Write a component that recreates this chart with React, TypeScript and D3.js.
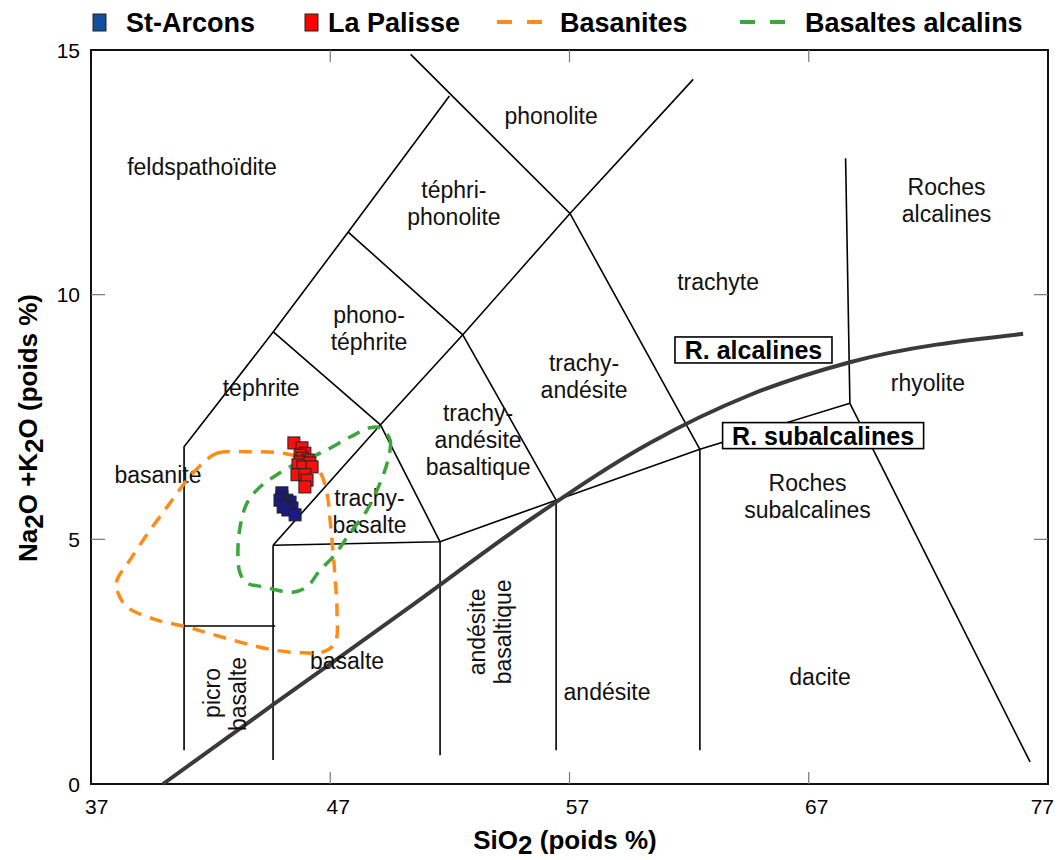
import React, { useEffect } from 'react';
import * as d3 from 'd3';

type Pt = [number, number];

// axes
const xTicks = [37, 47, 57, 67, 77];
const yTicks = [0, 5, 10, 15];
const innerXTicks = [47, 57, 67];
const innerYTicks = [5, 10];

// samples [SiO2, Na2O+K2O]
const stArcons: Pt[] = [
  [44.98, 5.95], [44.98, 5.87], [45.19, 5.80], [44.90, 5.80], [45.32, 5.76],
  [45.11, 5.70], [45.03, 5.66], [45.40, 5.64], [45.23, 5.60], [45.53, 5.50],
];
const laPalisse: Pt[] = [
  [45.48, 6.97], [45.82, 6.87], [45.94, 6.76], [45.74, 6.72], [45.82, 6.66],
  [46.07, 6.62], [45.74, 6.58], [46.15, 6.56], [45.65, 6.52], [45.86, 6.48],
  [46.24, 6.48], [45.61, 6.32], [45.94, 6.32], [46.03, 6.21], [45.94, 6.07],
];

// envelopes
const basanites: Pt[] = [
  [41.68, 6.56], [42.27, 6.76], [43.52, 6.79], [45.03, 6.76], [46.03, 6.62],
  [46.57, 6.38], [46.86, 5.95], [46.99, 5.40], [47.11, 4.78], [47.20, 4.23],
  [47.28, 3.56], [47.20, 2.88], [46.70, 2.70], [45.86, 2.68], [44.61, 2.74],
  [43.23, 2.90], [41.85, 3.09], [41.01, 3.21], [39.76, 3.35], [38.50, 3.62],
  [38.09, 3.96], [38.09, 4.17], [38.63, 4.58], [39.47, 5.19], [40.30, 5.74],
  [41.01, 6.21],
];
const basaltesAlcalins: Pt[] = [
  [49.08, 7.28], [49.50, 7.03], [49.41, 6.62], [49.08, 6.15], [48.54, 5.60],
  [47.83, 5.13], [47.12, 4.64], [46.57, 4.37], [46.03, 4.03], [45.44, 3.92],
  [44.19, 4.03], [43.52, 4.11], [43.23, 4.31], [43.14, 4.72], [43.23, 5.25],
  [43.52, 5.74], [44.06, 6.07], [44.77, 6.32], [45.61, 6.56], [46.70, 6.79],
  [47.83, 7.09], [48.66, 7.28],
];

// alkaline / subalkaline divide
const alkalineDivide: Pt[] = [
  [40.01, 0], [44.61, 1.62], [50.33, 3.62], [55.35, 5.40], [60.36, 6.97],
  [64.54, 7.95], [68.72, 8.62], [75.96, 9.20],
];

// TAS field boundaries
const fieldLines: Pt[][] = [
  [[40.89, 0.69], [40.89, 6.89], [44.62, 9.24], [47.75, 11.28], [51.98, 14.06]],
  [[50.36, 14.91], [57.02, 11.66], [62.45, 6.84]],
  [[57.02, 11.66], [62.17, 14.40]],
  [[44.62, 9.24], [49.10, 7.34]],
  [[47.75, 11.28], [52.54, 9.18]],
  [[57.02, 11.66], [52.54, 9.18], [49.10, 7.34], [44.61, 4.88]],
  [[49.10, 7.34], [51.59, 4.95]],
  [[52.54, 9.18], [56.44, 5.80]],
  [[44.61, 4.88], [51.59, 4.95], [56.44, 5.80], [62.45, 6.84], [68.72, 7.78]],
  [[40.89, 3.23], [44.70, 3.23]],
  [[44.61, 4.88], [44.61, 0.49]],
  [[51.59, 4.95], [51.59, 0.59]],
  [[56.44, 5.80], [56.44, 0.69]],
  [[62.45, 6.84], [62.45, 0.69]],
  [[68.72, 7.78], [68.54, 12.79]],
  [[68.72, 7.78], [76.25, 0.45]],
];

const fieldNames: { lines: string[]; at: Pt }[] = [
  { lines: ['feldspathoïdite'], at: [41.64, 12.61] },
  { lines: ['phonolite'], at: [56.23, 13.65] },
  { lines: ['téphri-', 'phonolite'], at: [52.17, 12.14] },
  { lines: ['phono-', 'téphrite'], at: [48.62, 9.59] },
  { lines: ['tephrite'], at: [44.11, 8.09] },
  { lines: ['trachy-', 'andésite', 'basaltique'], at: [53.18, 7.58] },
  { lines: ['trachy-', 'andésite'], at: [57.61, 8.60] },
  { lines: ['trachyte'], at: [63.21, 10.26] },
  { lines: ['Roches', 'alcalines'], at: [72.76, 12.20] },
  { lines: ['rhyolite'], at: [71.98, 8.20] },
  { lines: ['Roches', 'subalcalines'], at: [66.95, 6.15] },
  { lines: ['trachy-', 'basalte'], at: [48.64, 5.85] },
  { lines: ['basanite'], at: [39.80, 6.32] },
  { lines: ['basalte'], at: [47.70, 2.51] },
  { lines: ['andésite'], at: [58.57, 1.88] },
  { lines: ['dacite'], at: [67.47, 2.19] },
];
const verticalNames: { text: string; at: Pt }[] = [
  { text: 'picro', at: [42.06, 1.86] },
  { text: 'basalte', at: [43.14, 1.84] },
  { text: 'andésite', at: [53.13, 3.11] },
  { text: 'basaltique', at: [54.22, 3.11] },
];
const seriesBoxes: { text: string; at: Pt; w: number }[] = [
  { text: 'R. alcalines', at: [64.69, 8.87], w: 157 },
  { text: 'R. subalcalines', at: [67.60, 7.12], w: 201 },
];

const FONT = '"Liberation Sans", Arial, Helvetica, sans-serif';

const App: React.FC = () => {
  useEffect(() => {
    document.body.style.margin = '0';
  }, []);

  const x = d3.scaleLinear().domain([37, 77]).range([91, 1048]);
  const y = d3.scaleLinear().domain([0, 15]).range([784, 50]);

  const line = d3.line<Pt>().x(d => x(d[0])).y(d => y(d[1]));
  const divide = d3.line<Pt>().x(d => x(d[0])).y(d => y(d[1])).curve(d3.curveMonotoneX);
  const envelope = d3.line<Pt>().x(d => x(d[0])).y(d => y(d[1])).curve(d3.curveCatmullRomClosed.alpha(0.5));

  const sq = 12;

  return (
    <svg width={1058} height={860} style={{ position: 'absolute', left: 0, top: 0, background: 'white' }} fontFamily={FONT}>
      {/* legend */}
      <g fontSize={27} fontWeight="bold">
        <rect x={93} y={14} width={13} height={17} fill="#134f9c" stroke="#222" strokeWidth={1} />
        <text x={126} y={32}>St-Arcons</text>
        <rect x={305} y={14} width={13} height={17} fill="#ff0000" stroke="#222" strokeWidth={1} />
        <text x={328} y={32}>La Palisse</text>
        <line x1={497} x2={543} y1={22} y2={22} stroke="#ff8c1a" strokeWidth={4} strokeDasharray="15 15" />
        <text x={560} y={32}>Basanites</text>
        <line x1={740} x2={786} y1={22} y2={22} stroke="#3ca53c" strokeWidth={4} strokeDasharray="15 15" />
        <text x={805} y={32}>Basaltes alcalins</text>
      </g>

      {/* frame + ticks */}
      <rect x={x(37)} y={y(15)} width={x(77) - x(37)} height={y(0) - y(15)} fill="none" stroke="#111" strokeWidth={2} />
      {innerXTicks.map(t => (
        <g key={'xt' + t} stroke="#777" strokeWidth={1.2}>
          <line x1={x(t)} x2={x(t)} y1={y(0)} y2={y(0) - 12} />
          <line x1={x(t)} x2={x(t)} y1={y(15)} y2={y(15) + 12} />
        </g>
      ))}
      {innerYTicks.map(t => (
        <g key={'yt' + t} stroke="#777" strokeWidth={1.2}>
          <line x1={x(37)} x2={x(37) + 14} y1={y(t)} y2={y(t)} />
          <line x1={x(77)} x2={x(77) - 14} y1={y(t)} y2={y(t)} />
        </g>
      ))}
      <g fontSize={21}>
        {xTicks.map((t, i) => (
          <text
            key={'xl' + t}
            x={i === 0 ? x(t) - 6 : i === xTicks.length - 1 ? x(t) + 6 : x(t) + 8}
            y={814}
            textAnchor={i === 0 ? 'start' : i === xTicks.length - 1 ? 'end' : 'middle'}
          >
            {t}
          </text>
        ))}
        {yTicks.map(t => (
          <text key={'yl' + t} x={80} y={y(t)} dy="0.36em" textAnchor="end">{t}</text>
        ))}
      </g>
      <text x={565} y={849} fontSize={26} fontWeight="bold" textAnchor="middle">
        SiO<tspan dy={5}>2</tspan><tspan dy={-5}> (poids %)</tspan>
      </text>
      <text transform="translate(37,428) rotate(-90)" fontSize={26} fontWeight="bold" textAnchor="middle">
        Na<tspan dy={6}>2</tspan><tspan dy={-6}>O +K</tspan><tspan dy={6}>2</tspan><tspan dy={-6}>O (poids %)</tspan>
      </text>

      {/* TAS fields */}
      <g fill="none" stroke="#000" strokeWidth={1.6}>
        {fieldLines.map((seg, i) => <path key={'f' + i} d={line(seg) || ''} />)}
      </g>
      <path d={divide(alkalineDivide) || ''} fill="none" stroke="#3a3a3a" strokeWidth={4} />

      <g fontSize={23} textAnchor="middle" fill="#111">
        {fieldNames.map((f, i) => (
          <text key={'n' + i} x={x(f.at[0])} y={y(f.at[1]) + 8} dy="0.36em">
            {f.lines.map((l, j) => (
              <tspan key={j} x={x(f.at[0])} dy={j === 0 ? 0 : 27}>{l}</tspan>
            ))}
          </text>
        ))}
        {verticalNames.map((f, i) => (
          <text key={'v' + i} transform={`translate(${x(f.at[0])},${y(f.at[1])}) rotate(-90)`} dy="0.36em">{f.text}</text>
        ))}
      </g>

      {/* envelopes */}
      <path d={envelope(basanites) || ''} fill="none" stroke="#ff8c1a" strokeWidth={3.5} strokeDasharray="13 9" />
      <path d={envelope(basaltesAlcalins) || ''} fill="none" stroke="#3ca53c" strokeWidth={3.5} strokeDasharray="13 9" />

      {/* samples */}
      {laPalisse.map((d, i) => (
        <rect key={'lp' + i} x={x(d[0]) - sq / 2} y={y(d[1]) - sq / 2} width={sq} height={sq} fill="#ff0d0d" stroke="#222" strokeWidth={1} />
      ))}
      {stArcons.map((d, i) => (
        <rect key={'sa' + i} x={x(d[0]) - sq / 2} y={y(d[1]) - sq / 2} width={sq} height={sq} fill="#1c1a86" stroke="#222" strokeWidth={1} />
      ))}

      {/* series labels */}
      {seriesBoxes.map((b, i) => (
        <g key={'b' + i}>
          <rect x={x(b.at[0]) - b.w / 2} y={y(b.at[1]) - 13} width={b.w} height={26} fill="white" stroke="#000" strokeWidth={1.6} />
          <text x={x(b.at[0])} y={y(b.at[1])} dy="0.36em" fontSize={25} fontWeight="bold" textAnchor="middle">{b.text}</text>
        </g>
      ))}
    </svg>
  );
};

export default App;
